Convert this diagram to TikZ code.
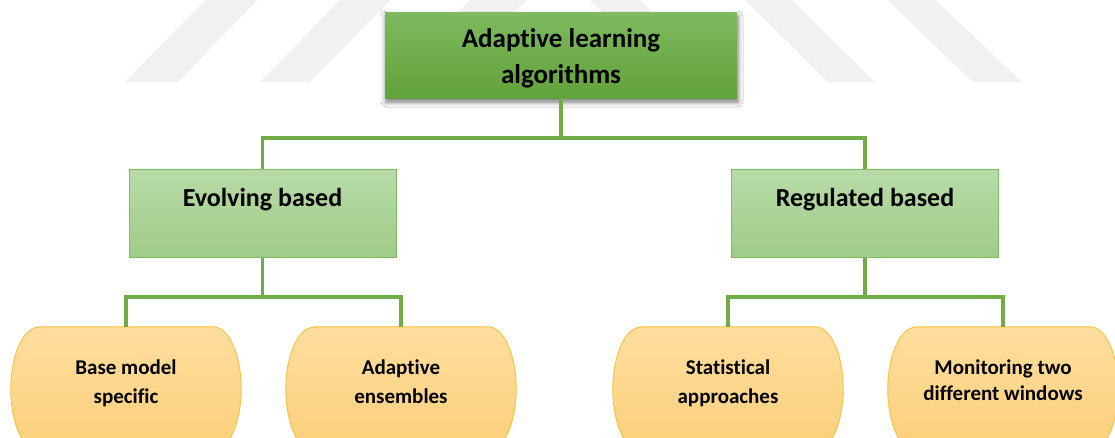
\documentclass[tikz,border=0pt]{standalone}
\usepackage{fontspec}
\setmainfont{Carlito}[Ligatures={NoCommon}]
\usetikzlibrary{shadows.blur}

\definecolor{linkgreen}{HTML}{70AD47}
\definecolor{headtop}{HTML}{7EBA60}
\definecolor{headbot}{HTML}{62A23A}
\definecolor{midtop}{HTML}{B8DBA8}
\definecolor{midbot}{HTML}{9FCC88}
\definecolor{midline}{HTML}{80BA62}
\definecolor{leaftop}{HTML}{FFDE9F}
\definecolor{leafbot}{HTML}{FCCF7A}
\definecolor{leafline}{HTML}{F7C13F}
\definecolor{markgray}{HTML}{F1F1F1}

% elliptical-ended capsule drawn around a named anchor node
\newcommand\capsulepath[1]{%
  \path[capsule] ([xshift=28pt]#1.north west) -- ([xshift=-28pt]#1.north east)
    arc[start angle=90, end angle=-90, x radius=28pt, y radius=62pt]
    -- ([xshift=28pt]#1.south west)
    arc[start angle=270, end angle=90, x radius=28pt, y radius=62pt] -- cycle;}

\begin{document}
\begin{tikzpicture}[x=1pt, y=-1pt,
  headbox/.style={rectangle, inner sep=0, minimum width=352pt, minimum height=86pt,
    top color=headtop, bottom color=headbot,
    blur shadow={shadow xshift=1pt, shadow yshift=-4pt, shadow blur radius=5pt, shadow opacity=55}},
  midbox/.style={rectangle, inner sep=0, minimum width=267pt, minimum height=88pt,
    draw=midline, line width=1pt, top color=midtop, bottom color=midbot},
  leafslot/.style={rectangle, inner sep=0, minimum width=230pt, minimum height=124pt},
  capsule/.style={draw=leafline, line width=0.9pt, top color=leaftop, bottom color=leafbot},
  link/.style={draw=linkgreen, line width=3.5pt},
  headtxt/.style={anchor=base, inner sep=0, font=\bfseries\fontsize{27}{27}\selectfont},
  midtxt/.style={anchor=base, inner sep=0, font=\bfseries\fontsize{26}{26}\selectfont},
  leaftxt/.style={anchor=base, inner sep=0, font=\bfseries\fontsize{21}{21}\selectfont}
]
\useasboundingbox (0,0) rectangle (1115,437);
\clip (0,0) rectangle (1115,437);
\fill[white] (0,0) rectangle (1115,437);

% faint background stripes
\fill[markgray] (125,82) -- (178,82) -- (262,-5) -- (210,-5) -- cycle;
\fill[markgray] (260,82) -- (310,82) -- (395,-5) -- (345,-5) -- cycle;
\fill[markgray] (390,82) -- (442,82) -- (532,-5) -- (475,-5) -- cycle;
\fill[markgray] (585,-5) -- (635,-5) -- (720,82) -- (670,82) -- cycle;
\fill[markgray] (740,-5) -- (787,-5) -- (875,82) -- (828,82) -- cycle;
\fill[markgray] (882,-5) -- (930,-5) -- (1022,82) -- (973,82) -- cycle;

% tree levels
\node[headbox] (root) at (561,55) {};
\node[midbox] (evo) at (262.5,213) {};
\node[midbox] (reg) at (865,213) {};
\node[leafslot] (l1) at (126,389) {};
\node[leafslot] (l2) at (401,389) {};
\node[leafslot] (l3) at (728,389) {};
\node[leafslot] (l4) at (1003,389) {};

\capsulepath{l1}
\capsulepath{l2}
\capsulepath{l3}
\capsulepath{l4}

% connectors
\coordinate (busA) at (0,138);
\coordinate (busB) at (0,297);
\draw[link] (root.south) -- (root.south |- busA);
\draw[link] (evo.north) |- (reg.north |- busA) -- (reg.north);
\draw[link] (evo.south) -- (evo.south |- busB);
\draw[link] (l1.north) |- (l2.north |- busB) -- (l2.north);
\draw[link] (reg.south) -- (reg.south |- busB);
\draw[link] (l3.north) |- (l4.north |- busB) -- (l4.north);

% labels
\node[headtxt] (rootA) at (561,47) {Adaptive learning};
\node[headtxt] (rootB) at (561,83) {algorithms};
\node[midtxt] (evoT) at (262.5,206) {Evolving based};
\node[midtxt] (regT) at (865,206) {Regulated based};
\node[leaftxt] (l1a) at (126,374) {Base model};
\node[leaftxt] (l1b) at (126,403) {specific};
\node[leaftxt] (l2a) at (401,374) {Adaptive};
\node[leaftxt] (l2b) at (401,403) {ensembles};
\node[leaftxt] (l3a) at (728,374) {Statistical};
\node[leaftxt] (l3b) at (728,403) {approaches};
\node[leaftxt] (l4a) at (1003,374) {Monitoring two};
\node[leaftxt] (l4b) at (1003,400) {different windows};
\end{tikzpicture}
\end{document}
